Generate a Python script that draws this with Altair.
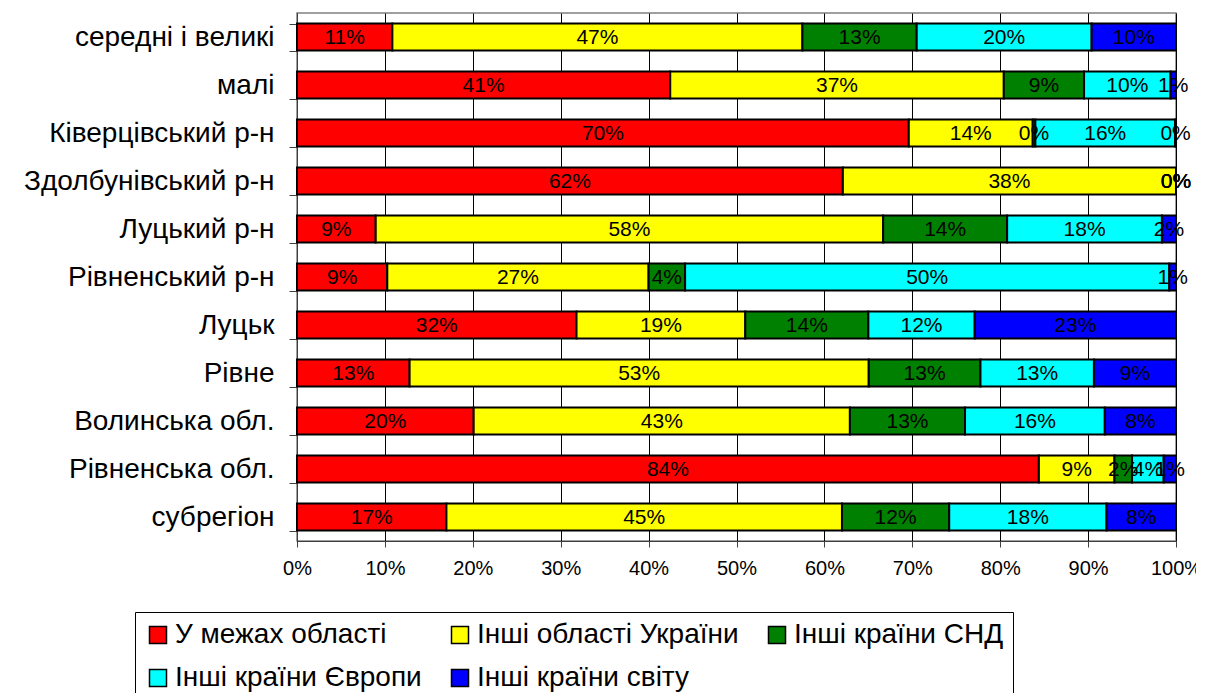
import altair as alt
import pandas as pd

categories = [
    "середні і великі", "малі", "Ківерцівський р-н", "Здолбунівський р-н",
    "Луцький р-н", "Рівненський р-н", "Луцьк", "Рівне",
    "Волинська обл.", "Рівненська обл.", "субрегіон",
]
series = ["У межах області", "Інші області України", "Інші країни СНД",
          "Інші країни Європи", "Інші країни світу"]
colors = ["#FF0000", "#FFFF00", "#008000", "#00FFFF", "#0000FF"]

v_oblast = [10.85, 41.4, 69.6, 62.1, 8.95, 9.4, 31.8, 12.9, 20.1, 84.4, 17.0]
v_ukraine = [46.65, 37.0, 14.1, 37.9, 57.7, 27.2, 19.2, 52.6, 42.8, 8.6, 45.0]
v_snd = [13.0, 8.9, 0.3, 0.0, 14.1, 3.8, 14.0, 12.8, 13.1, 2.0, 12.2]
v_europe = [19.9, 9.6, 15.9, 0.0, 17.6, 50.4, 12.1, 13.0, 15.9, 3.6, 17.9]
v_world = [9.6, 0.6, 0.1, 0.0, 1.6, 0.7, 22.9, 9.4, 8.1, 1.4, 7.9]

x_ticks = [0, 0.1, 0.2, 0.3, 0.4, 0.5, 0.6, 0.7, 0.8, 0.9, 1.0]

rows = []
for si, (s, vals) in enumerate(zip(series, [v_oblast, v_ukraine, v_snd, v_europe, v_world])):
    for c, v in zip(categories, vals):
        rows.append({"cat": c, "series": s, "order": si, "value": v})
df = pd.DataFrame(rows)

FONT = "Liberation Sans"

base = alt.Chart(df).transform_stack(
    stack="value", groupby=["cat"], as_=["v0", "v1"], offset="normalize",
    sort=[alt.SortField("order", order="ascending")],
).transform_calculate(
    mid="(datum.v0 + datum.v1) / 2",
    label="format(datum.value, '.0f') + '%'",
)

yenc = alt.Y(
    "cat:N", sort=categories, title=None,
    scale=alt.Scale(paddingInner=0.4375, paddingOuter=0.21875),
    axis=alt.Axis(tickBand="extent", tickSize=8, labelFontSize=28, labelFont=FONT,
                  labelColor="black", labelPadding=15, domainColor="#404040",
                  tickColor="#404040", labelLimit=400, grid=False),
)

bars = base.mark_bar(stroke="black", strokeWidth=2).encode(
    y=yenc,
    x=alt.X("v0:Q", title=None, scale=alt.Scale(domain=[0, 1], nice=False),
            axis=alt.Axis(values=x_ticks, format=".0%", grid=True, gridColor="black",
                          gridOpacity=1, gridWidth=1, tickSize=6, labelFontSize=20,
                          labelFont=FONT, labelColor="black", labelPadding=11,
                          domainColor="#404040", tickColor="#404040", labelFlush=False)),
    x2="v1:Q",
    color=alt.Color("series:N", sort=series,
                    scale=alt.Scale(domain=series, range=colors),
                    legend=alt.Legend(title=None, orient="none", legendX=-162, legendY=599,
                                      direction="horizontal", columns=3,
                                      symbolType="square", symbolSize=289,
                                      symbolStrokeColor="black", symbolStrokeWidth=1.5,
                                      labelFontSize=28, labelFont=FONT, labelColor="black",
                                      labelLimit=400, padding=9, rowPadding=15,
                                      columnPadding=24, labelOffset=3,
                                      strokeColor="black", fillColor="white")),
)

texts = base.mark_text(fontSize=21, font=FONT, color="black", baseline="middle", dy=1).encode(
    y=alt.Y("cat:N", sort=categories),
    x=alt.X("mid:Q"),
    text="label:N",
)

chart = alt.layer(bars, texts).properties(
    width=879, height=528,
    padding={"left": 289, "top": 5, "right": 20, "bottom": 152},
    autosize=alt.AutoSizeParams(type="none"),
).configure_view(stroke="#808080", strokeWidth=1.5)

chart.save("out.html", embed_options={"renderer": "svg", "actions": False})
